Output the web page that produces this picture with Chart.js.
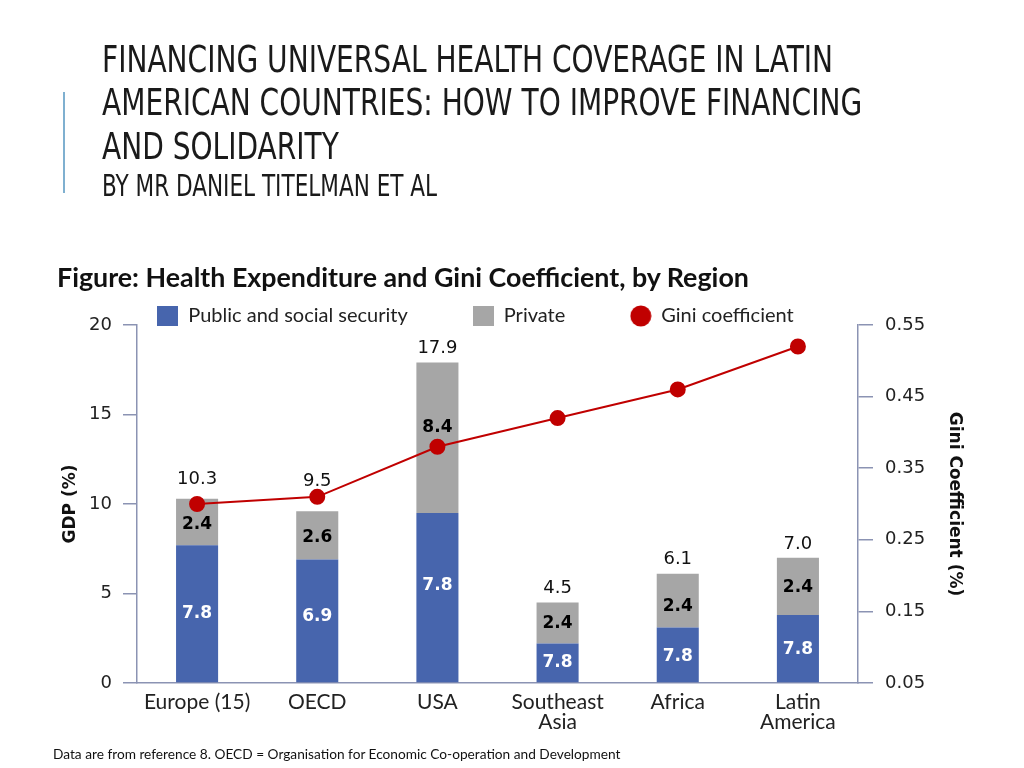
<!DOCTYPE html>
<html>
<head>
<meta charset="utf-8">
<script src="https://cdn.jsdelivr.net/npm/chart.js@4.4.1/dist/chart.umd.min.js"></script>
<style>
  html, body { margin: 0; padding: 0; background: #fff; }
  #page { position: relative; width: 1024px; height: 768px; overflow: hidden; }
  #chart { position: absolute; left: 0; top: 0; }
  .bar { position: absolute; left: 63px; top: 92px; width: 2px; height: 101px; background: #7fb0d0; }
  .title { position: absolute; left: 102px; top: 37.5px; font-family: "DejaVu Sans Condensed", "DejaVu Sans", sans-serif;
           font-size: 37px; line-height: 43.5px; color: #1a1a1a; white-space: nowrap; transform-origin: 0 0; }
  .sub { position: absolute; left: 102px; top: 168px; font-family: "DejaVu Sans Condensed", "DejaVu Sans", sans-serif;
         font-size: 30px; color: #1a1a1a; white-space: nowrap; transform-origin: 0 0; }
  .fig { position: absolute; left: 57px; top: 261px; font-family: Lato, sans-serif; font-weight: bold; font-size: 26.8px; color: #111; white-space: nowrap; }
  .note { position: absolute; left: 53px; top: 745px; font-family: Lato, sans-serif; font-size: 13.7px; color: #111; white-space: nowrap; }
</style>
</head>
<body>
<div id="page">
  <canvas id="chart" width="1024" height="768"></canvas>
  <div class="bar"></div>
  <div class="title" id="t1">FINANCING UNIVERSAL HEALTH COVERAGE IN LATIN</div>
  <div class="title" id="t2" style="top:81px">AMERICAN COUNTRIES: HOW TO IMPROVE FINANCING</div>
  <div class="title" id="t3" style="top:124.5px">AND SOLIDARITY</div>
  <div class="sub" id="t4">BY MR DANIEL TITELMAN ET AL</div>
  <div class="fig">Figure: Health Expenditure and Gini Coefficient, by Region</div>
  <div class="note">Data are from reference 8. OECD = Organisation for Economic Co-operation and Development</div>
</div>
<script>
// values
const regions = ['Europe (15)', 'OECD', 'USA', ['Southeast', 'Asia'], 'Africa', ['Latin', 'America']];
const publicSpend = [7.7, 6.9, 9.5, 2.2, 3.1, 3.8];
const privateSpend = [2.6, 2.7, 8.4, 2.3, 3.0, 3.2];
const gini = [0.30, 0.31, 0.38, 0.42, 0.46, 0.52];

// labels as printed on the figure
const publicLabels = ['7.8', '6.9', '7.8', '7.8', '7.8', '7.8'];
const privateLabels = ['2.4', '2.6', '8.4', '2.4', '2.4', '2.4'];
const totalLabels = ['10.3', '9.5', '17.9', '4.5', '6.1', '7.0'];

const blue = '#4765ad';
const grey = '#a6a6a6';
const red = '#c00000';
const axisColor = '#8b93b3';
const numFont = 'DejaVu Sans';
const textFont = 'Lato';

// squeeze the condensed heading lines to the widths in the slide
const sx = 731 / document.getElementById('t1').scrollWidth;
['t1', 't2', 't3'].forEach(id => { document.getElementById(id).style.transform = 'scaleX(' + sx + ')'; });
const t4 = document.getElementById('t4');
t4.style.transform = 'scaleX(' + (335 / t4.scrollWidth) + ')';

// legend icons
function icon(w, h, draw) {
  const c = document.createElement('canvas');
  c.width = w; c.height = h;
  draw(c.getContext('2d'));
  return c;
}
const blueBox = icon(21, 20, g => { g.fillStyle = blue; g.fillRect(0, 0, 21, 20); });
const greyBox = icon(21, 20, g => { g.fillStyle = grey; g.fillRect(0, 0, 21, 20); });
const redDot = icon(22, 22, g => { g.fillStyle = red; g.beginPath(); g.arc(11, 11, 10.5, 0, Math.PI * 2); g.fill(); });

// legend sits right on top of the plot, a bit left of centre
const legendFit = {
  id: 'legendFit',
  beforeLayout(chart) {
    const lg = chart.legend;
    if (lg && !lg._patched) {
      const fit = lg.fit;
      lg.fit = function () {
        fit.call(this);
        this.height = 87;
      };
      const draw = lg.draw;
      lg.draw = function () {
        this.ctx.save();
        this.ctx.translate(-37, 3);
        draw.call(this);
        this.ctx.restore();
      };
      lg._patched = true;
    }
  }
};

const barLabels = {
  id: 'barLabels',
  afterDatasetsDraw(chart, args, opts) {
    const ctx = chart.ctx;
    const pub = chart.getDatasetMeta(1).data;
    const pri = chart.getDatasetMeta(2).data;
    ctx.save();
    ctx.textAlign = 'center';
    ctx.textBaseline = 'middle';
    pub.forEach((b, i) => {
      ctx.font = 'bold 17px ' + numFont;
      ctx.fillStyle = '#fff';
      ctx.fillText(publicLabels[i], b.x, (b.y + b.base) / 2 + opts.pubShift[i]);
      const p = pri[i];
      ctx.fillStyle = '#000';
      ctx.fillText(privateLabels[i], p.x, (p.y + p.base) / 2 + opts.priShift[i]);
      ctx.font = '18px ' + numFont;
      ctx.fillStyle = '#111';
      ctx.fillText(totalLabels[i], p.x, p.y - opts.totalLift[i]);
    });
    ctx.restore();
  }
};

new Chart(document.getElementById('chart'), {
  data: {
    labels: regions,
    datasets: [
      {
        type: 'line', label: 'Gini coefficient', data: gini, yAxisID: 'y2', order: 0,
        borderColor: red, backgroundColor: red, borderWidth: 2, pointRadius: 7, pointStyle: 'circle'
      },
      {
        type: 'bar', label: 'Public and social security', data: publicSpend, backgroundColor: blue,
        stack: 'gdp', yAxisID: 'y', order: 1, barPercentage: 0.35, categoryPercentage: 1
      },
      {
        type: 'bar', label: 'Private', data: privateSpend, backgroundColor: grey,
        stack: 'gdp', yAxisID: 'y', order: 1, barPercentage: 0.35, categoryPercentage: 1
      }
    ]
  },
  options: {
    responsive: false,
    animation: false,
    layout: { padding: { top: 238, left: 56, right: 55, bottom: 25 } },
    plugins: {
      tooltip: { enabled: false },
      barLabels: {
        pubShift: [0, -4, -12, 0, 2, 1],
        priShift: [3, 2, -10, 1, 6, 1],
        totalLift: [19, 30, 14, 14, 14, 13]
      },
      legend: {
        labels: {
          font: { family: textFont, size: 20 },
          color: '#222',
          padding: 65,
          usePointStyle: true,
          boxWidth: 21,
          pointStyleWidth: 21,
          generateLabels(chart) {
            const icons = [redDot, blueBox, greyBox];
            return [1, 2, 0].map(i => {
              const ds = chart.data.datasets[i];
              return {
                text: ds.label, fillStyle: ds.backgroundColor, strokeStyle: ds.backgroundColor,
                lineWidth: 0, pointStyle: icons[i], datasetIndex: i, fontColor: '#222'
              };
            });
          }
        }
      }
    },
    scales: {
      x: {
        stacked: true,
        grid: { display: false, drawTicks: false },
        border: { display: true, color: axisColor, width: 1.5 },
        ticks: { font: { family: textFont, size: 21, lineHeight: 0.95 }, color: '#222', maxRotation: 0, autoSkip: false, padding: 9 },
        afterFit: s => { s.height = 60; }
      },
      y: {
        stacked: true, min: 0, max: 20, position: 'left',
        grid: { drawOnChartArea: false, tickLength: 14, color: axisColor, lineWidth: 1.5 },
        border: { color: axisColor, width: 1.5 },
        ticks: { stepSize: 5, font: { family: numFont, size: 18 }, color: '#222', padding: 11 },
        title: { display: true, text: 'GDP (%)', font: { family: numFont, size: 17, weight: 'bold' }, color: '#111' },
        afterFit: s => { s.width = 81; }
      },
      y2: {
        min: 0.05, max: 0.55, position: 'right',
        grid: { drawOnChartArea: false, tickLength: 15, color: axisColor, lineWidth: 1.5 },
        border: { color: axisColor, width: 1.5 },
        ticks: { stepSize: 0.1, font: { family: numFont, size: 18 }, color: '#222', padding: 12,
                 callback: v => v.toFixed(2) },
        title: { display: true, text: 'Gini Coefficient (%)', font: { family: numFont, size: 17, weight: 'bold' }, color: '#111' },
        afterFit: s => { s.width = 111; }
      }
    }
  },
  plugins: [legendFit, barLabels]
});
</script>
</body>
</html>
